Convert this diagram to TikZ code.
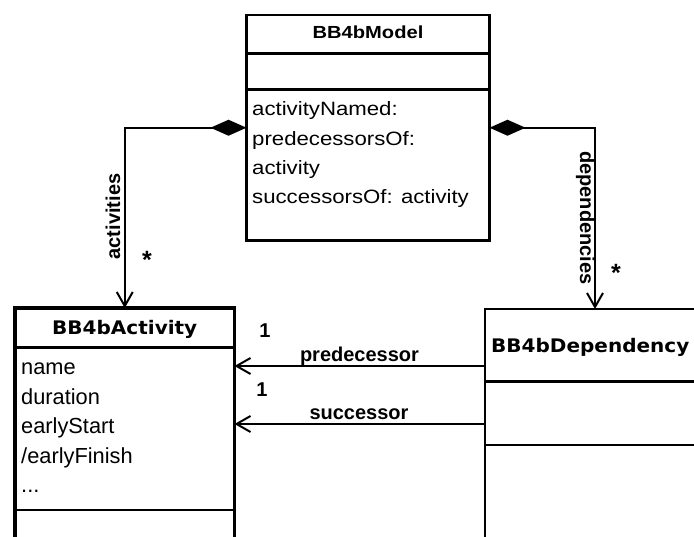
\documentclass[tikz,border=0pt]{standalone}
\usepackage{fontspec}
\setmainfont{Liberation Sans}
\newfontfamily\modelfont{Liberation Sans}[FakeStretch=1.15]
\newfontfamily\classfont{DejaVu Sans}[FakeStretch=1.07]
\usetikzlibrary{arrows.meta}

\begin{document}
\begin{tikzpicture}[x=1pt,y=-1pt,
  box/.style={draw, line width=2.2pt, inner sep=0pt, outer sep=0pt, anchor=north west},
  sep/.style={line width=2.2pt},
  txt/.style={inner sep=0pt, anchor=base west, font=\fontsize{21.8}{26}\selectfont},
  mtxt/.style={inner sep=0pt, anchor=base west, font=\modelfont\fontsize{19.3}{23}\selectfont},
  lbl/.style={inner sep=0pt, anchor=base, font=\fontsize{20}{24}\selectfont\bfseries},
  star/.style={inner sep=0pt, anchor=base, font=\fontsize{25}{28}\selectfont\bfseries},
  compo/.style={line width=2pt, {Diamond[length=36pt,width=16pt]}-{Straight Barb[length=14pt,width=16pt]}},
  assoc/.style={line width=2pt, -{Straight Barb[length=14pt,width=16pt]}}
]
\useasboundingbox (0,0) rectangle (694,537);
\clip (0,0) rectangle (694,537);

% class boxes
\node[box, line width=2.4pt, minimum width=243pt, minimum height=225.5pt] (model) at (246.5,15) {};
\node[box, line width=3.6pt, minimum width=219.5pt, minimum height=260pt] (act) at (15,308) {};
\node[box, minimum width=300pt, minimum height=260pt] (dep) at (485,309) {};

% compartment separators
\draw[sep] (246.5,53.5) -- (489.5,53.5);
\draw[sep] (246.5,89.5) -- (489.5,89.5);
\draw[sep] (15,347.5) -- (234.5,347.5);
\draw[sep] (15,510) -- (234.5,510);
\draw[sep] (485,381.5) -- (700,381.5);
\draw[sep] (485,445) -- (700,445);

% BB4bModel
\node[inner sep=0pt, anchor=base, font=\modelfont\bfseries\fontsize{17.5}{20}\selectfont] (mtitle) at (368,39) {BB4bModel};
\node[mtxt] (m1) at (252,116) {activityNamed:};
\node[mtxt] (m2) at (252,145.3) {predecessorsOf:};
\node[mtxt] (m3) at (252,174.6) {activity};
\node[mtxt] (m4) at (252,204) {successorsOf: activity};

% BB4bActivity
\node[inner sep=0pt, anchor=base, font=\classfont\bfseries\fontsize{18.7}{22}\selectfont] (atitle) at (124.75,335) {BB4bActivity};
\node[txt] (a1) at (21,375) {name};
\node[txt] (a2) at (21,404.7) {duration};
\node[txt] (a3) at (21,434) {earlyStart};
\node[txt] (a4) at (21,463.5) {/earlyFinish};
\node[txt] (a5) at (21,493) {...};

% BB4bDependency
\node[inner sep=0pt, anchor=base west, font=\classfont\bfseries\fontsize{18.7}{22}\selectfont] (dtitle) at (491,353) {BB4bDependency};

% compositions
\coordinate (depin) at (595,309);
\draw[compo] (model.west) -| (act.north);
\draw[compo] (model.east) -| (depin);
\node[lbl, rotate=90] (actlbl) at (120,216.5) {activities};
\node[star] (star1) at (147,269) {*};
\node[lbl, rotate=-90] (deplbl) at (580,218) {dependencies};
\node[star] (star2) at (616,282) {*};

% associations
\draw[assoc] (dep.west |- 0,366) -- (act.east |- 0,366);
\draw[assoc] (dep.west |- 0,424) -- (act.east |- 0,424);
\node[lbl] (mult1) at (265,338) {1};
\node[lbl] (predlbl) at (359.5,362) {predecessor};
\node[lbl] (mult2) at (262,397) {1};
\node[lbl] (succlbl) at (359,420) {successor};
\end{tikzpicture}
\end{document}
